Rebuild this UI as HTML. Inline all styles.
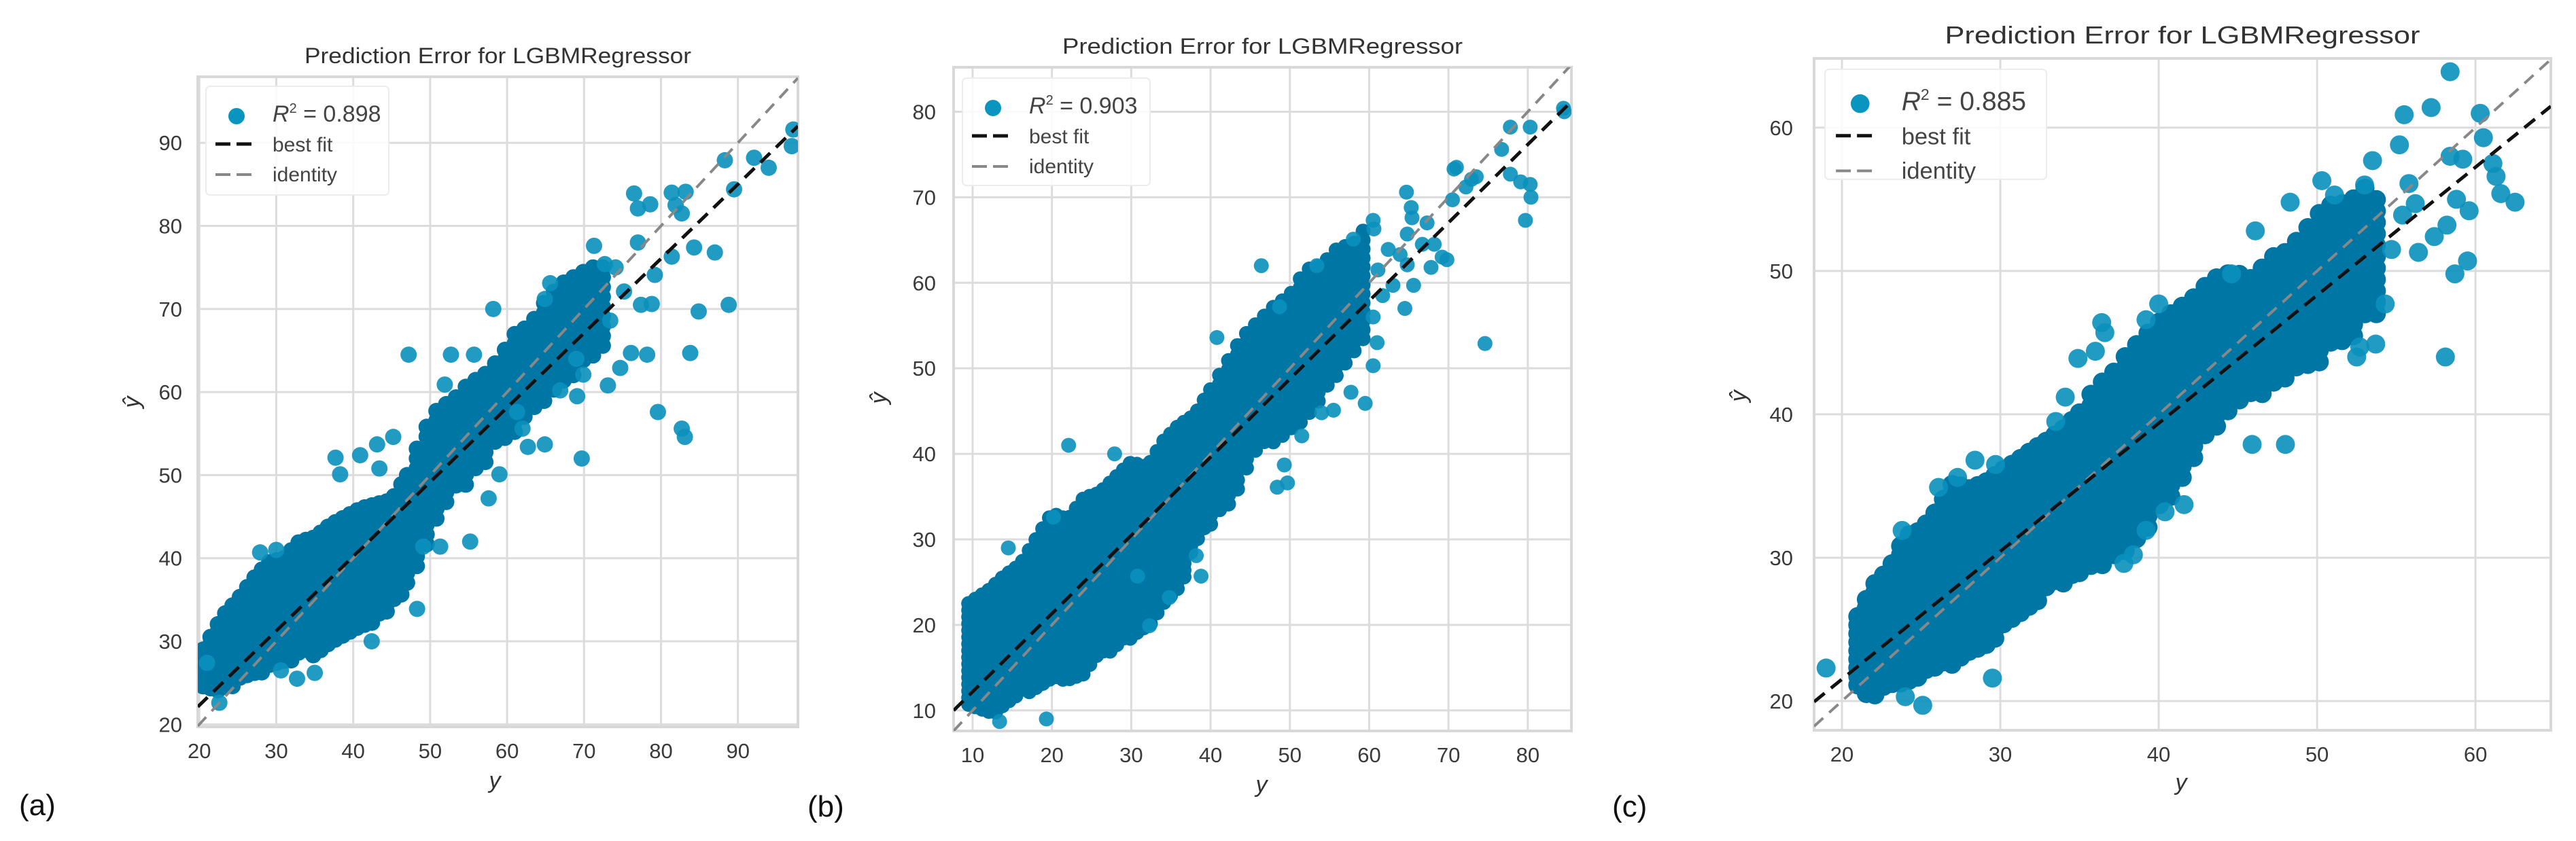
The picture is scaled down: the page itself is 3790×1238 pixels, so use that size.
<!DOCTYPE html>
<html><head><meta charset="utf-8"><style>
html,body{margin:0;padding:0;background:#fff;}
svg{display:block;}
text{font-family:"Liberation Sans",sans-serif;}
</style></head><body>
<svg id="fig" width="3790" height="1238" viewBox="0 0 3790 1238" xmlns="http://www.w3.org/2000/svg"></svg>
<script>
// ---------- Panel A data ----------
const aTicksX=[20,30,40,50,60,70,80,90];
const aTicksY=[20,30,40,50,60,70,80,90];
const aCoreX=[20.5,23,25,27,29,31,33,35,37,39,41,43,45,47];
const aCoreLo=[24,24,24.8,25.5,26.5,27.3,28,28.3,29,30,31,32.5,34,35.5];
const aCoreHi=[29,33,35,37.5,39.5,40,42,42.5,44,45,46,46.5,47,50];
const aMidX=[47,49,51,53,55,57,59,61,63,65,67,69,71,73];
const aMidLo=[36,40,45,48,49,51,54,55,57,59,61,62,64,66];
const aMidHi=[50,55,58,59,61,62,64,67,68,71,73,74,75,75];
const aPtsX=[47.2,52.7,55.7,58.2,51.9,69.7,79.6,82.7,83.1,83.8,84.9,88.8,87,88.3,92.1,94,89.5,97,97.2,76.5,77,78.6,81.4,83.2,81.9,82.7,71.3,84.3,81.4,79.2,77,77.4,78.8,78.2,76.1,74.7,73.1,69,66.9,69.1,69.9,65.6,64.9,74.1,72.7,75.2,73.4,64.9,62.7,59,55.2,57.6,61.3,62,37.7,38.3,40.9,43.1,45.2,43.4,27.9,30,32.7,35,30.6,42.4,48.3,49.1,51.3,22.6,21];
const aPtsY=[64.5,64.5,64.5,70,60.9,52,57.6,55.6,54.6,64.7,69.7,70.5,76.8,87.9,88.2,87,84.4,89.6,91.6,83.9,82.1,82.6,84,84.1,82.5,81.5,77.6,77.4,76.3,74.1,78,70.5,70.6,64.5,64.7,62.9,60.8,64,60.2,59.5,62.1,73.1,71.2,75,75.4,72.1,68.6,53.7,53.4,50.1,42,47.2,57.6,55.6,52.1,50.1,52.4,53.7,54.6,50.8,40.7,41,25.5,26.2,26.5,30,33.9,41.4,41.4,22.6,27.4];
const aFit=[0.896,4.38];
// ---------- Panel B data ----------
const bTicksX=[10,20,30,40,50,60,70,80];
const bTicksY=[10,20,30,40,50,60,70,80];
const bCoreX=[9.5,12,14,16,18,20,22,24,26,28,30,32,34,36,38,40];
const bCoreLo=[10,9.3,10,11.7,12.3,13.5,12.9,14.1,16,17.2,18.4,19.6,22,23.8,29.3,31.7];
const bCoreHi=[22.5,24,25.7,27,30,33,32.3,34.8,35.4,37.2,39,38.4,41.4,43.3,44.5,47.5];
const bMidX=[40,42,44,46,48,50,52,54,56,58,60];
const bMidLo=[31.7,33.6,36.6,40.2,41.4,42.7,43.9,46.3,49.3,51.2,53.6];
const bMidHi=[47.5,50.5,53.6,55.4,57.2,58.5,61.5,62,64,64.5,67];
const bPtsX=[60.6,60.5,64.7,65.3,65.4,64.8,67.3,68.2,69.8,67.8,65.6,64.5,70.5,70.7,71,72.9,72.2,73.5,76.7,77.8,80.3,77.8,79.1,80.3,80.4,79.7,74.6,84.5,84.6,69.2,66.7,62.4,63,64.8,63.9,61.1,61.7,60.5,61,60.5,59.5,57.7,55.5,54,51.5,49.7,48.4,49.3,46.4,48.7,40.8,53.4,58,14.5,22.1,27.9,20.2,38.8,38.2,34.8,19.3,13.4,32.3,30.8];
const bPtsY=[66.3,67.3,70.6,68.8,67.6,65.7,67,64.5,62.7,61.8,59.7,57,69.7,73.3,73.5,72.1,71.2,72.4,75.6,78.2,78.2,72.7,71.8,71.5,70,67.3,52.9,80.4,80,63,64.5,63.9,59.7,62.1,63.3,61.5,58.5,56,53,50.3,45.9,47.2,45.1,44.8,42.1,36.6,36.1,38.7,62,57.2,53.6,62,65.1,29,41,40,32.6,25.7,28.1,23.2,9,8.7,19.9,25.7];
const bFit=[0.914,3.05];
// ---------- Panel C data ----------
const cTicksX=[20,30,40,50,60];
const cTicksY=[20,30,40,50,60];
const cCoreX=[21,22,23,24,25,26,27,28,29,30,31,32,33,34,35];
const cCoreLo=[20.6,20.3,20.6,21,21.4,22.1,22.5,22.9,23.6,24.7,25.9,26.6,27.7,28.1,28.5];
const cCoreHi=[25.9,28.1,29.2,31.5,31.9,33.3,35.2,34.8,35.2,36,36.7,37.5,38.2,39,40.1];
const cMidX=[35,36,37,38,39,40,41,42,43,44,45,46,47,48,49,50,51,52,53,54];
const cMidLo=[28.5,29.2,29.6,30,31.5,33.3,34.5,36.3,38.2,39,40.4,40.8,41.9,41.9,43,43.4,44.9,44.9,46.4,47.2];
const cMidHi=[40.1,41.9,42.7,44.2,45.3,46.4,47.2,47.9,49,49.8,49.8,49.4,50.9,51.3,52.4,53.9,54.7,54.7,55.8,54.7];
const cPtsX=[58.4,55.5,57.2,60.3,60.5,55.2,61.1,61.3,61.6,62.5,59.2,58.4,58.8,59.6,58.2,57.4,58.7,59.5,58.1,53.5,53,50.3,51.1,48.3,46.1,55.8,56.2,55.4,56.4,54.7,54.3,52.7,53.7,52.5,45.9,48,36.4,36.6,34.9,36,34.1,33.5,29.7,28.4,27.3,26.1,23.8,19,24,25.1,29.5,37.8,38.4,41.6,40.4,39.2,40,39.2,44.6];
const cPtsY=[63.9,60.9,61.4,61,59.3,58.8,57.5,56.6,55.4,54.8,57.8,58,55,54.2,53.2,52.4,49.8,50.7,44,57.7,56,56.3,55.3,54.8,52.8,56.1,54.7,53.9,51.3,51.5,47.7,44.7,44.9,44,37.9,37.9,46.4,45.7,43.9,44.4,41.2,39.5,36.5,36.8,35.6,34.9,31.9,22.3,20.3,19.7,21.6,29.6,30.2,33.7,33.2,31.9,47.7,46.6,49.8];
const cFit=[0.893,3.66];

const NS="http://www.w3.org/2000/svg";
const svg=document.getElementById('fig');
function mk(tag,attrs,parent){const e=document.createElementNS(NS,tag);for(const k in attrs)e.setAttribute(k,attrs[k]);(parent||svg).appendChild(e);return e;}

function drawPanel(p){
  const g=mk('g',{});
  
  
  const sx=v=>p.L+(v-p.xd[0])/(p.xd[1]-p.xd[0])*(p.R-p.L);
  const sy=v=>p.B-(v-p.yd[0])/(p.yd[1]-p.yd[0])*(p.B-p.T);
  p.tx.forEach(t=>{const l=mk('line',{x1:sx(t),x2:sx(t),y1:p.T,y2:p.B,stroke:'#dcdcdc','stroke-width':3},g);
    
    const tt=mk('text',{x:sx(t),y:p.B+46,'text-anchor':'middle','font-size':p.tf,fill:'#3a3a3a'},g);tt.textContent=t;
    });
  p.ty.forEach(t=>{const l=mk('line',{x1:p.L,x2:p.R,y1:sy(t),y2:sy(t),stroke:'#dcdcdc','stroke-width':3},g);
    
    const tt=mk('text',{x:p.L-p.yl,y:sy(t)+11,'text-anchor':'end','font-size':p.tf,fill:'#3a3a3a'},g);tt.textContent=t;
    });
  const fr=mk('rect',{x:p.L,y:p.T,width:p.R-p.L,height:p.B-p.T,fill:'none',stroke:'#d8d8d8','stroke-width':4},g);
  
  const cp=mk('clipPath',{id:'clip'+p.id},g);
  mk('rect',{x:p.L,y:p.T,width:p.R-p.L,height:p.B-p.T},cp);
  const dots=mk('g',{'clip-path':'url(#clip'+p.id+')'},g);
  
  const bandG=mk('g',{fill:'#0076a5'},dots);
  const ptG=mk('g',{fill:'#0a90bd','fill-opacity':0.9},dots);
  function band(X,LO,HI,step){
    const x0=sx(X[0]),x1=sx(X[X.length-1]);
    for(let px=x0;px<=x1+0.1;px+=step){
      const xv=p.xd[0]+(px-p.L)/(p.R-p.L)*(p.xd[1]-p.xd[0]);
      let i=0;while(i<X.length-2&&xv>X[i+1])i++;
      const f=Math.max(0,Math.min(1,(xv-X[i])/(X[i+1]-X[i])));
      const lo=LO[i]+(LO[i+1]-LO[i])*f,hi=HI[i]+(HI[i+1]-HI[i])*f;
      for(let py=sy(hi);py<=sy(lo)+0.1;py+=step){
        const c=mk('circle',{cx:px.toFixed(1),cy:py.toFixed(1),r:p.r},bandG);
        
        
      }
    }
  }
  band(p.coreX,p.coreLo,p.coreHi,p.r*0.9);
  band(p.midX,p.midLo,p.midHi,p.r*1.2);
  p.ptsX.forEach((v,i)=>{const c=mk('circle',{cx:sx(v),cy:sy(p.ptsY[i]),r:p.r},ptG);
    
    });
  const lines=mk('g',{'clip-path':'url(#clip'+p.id+')'},g);
  const id=mk('line',{x1:sx(p.xd[0]),y1:sy(p.xd[0]),x2:sx(p.xd[1]),y2:sy(p.xd[1]),stroke:'#888','stroke-width':4,'stroke-dasharray':'18 12'},lines);
  
  const bf=mk('line',{x1:sx(p.xd[0]),y1:sy(p.fit[0]*p.xd[0]+p.fit[1]),x2:sx(p.xd[1]),y2:sy(p.fit[0]*p.xd[1]+p.fit[1]),stroke:'#111','stroke-width':5,'stroke-dasharray':'20 12'},lines);
  
  const ti=mk('text',{x:(p.L+p.R)/2,y:p.titleY,'text-anchor':'middle','font-size':p.titleF,fill:'#333',textLength:p.titleW,lengthAdjust:'spacingAndGlyphs'},g);
  ti.textContent='Prediction Error for LGBMRegressor';
  
  const xl=mk('text',{x:p.xlab[0],y:p.xlab[1],'text-anchor':'middle','font-size':34,'font-style':'italic',fill:'#333'},g);
  xl.textContent='y';
  const yl=mk('text',{x:p.ylab[0],y:p.ylab[1],'text-anchor':'middle','font-size':34,'font-style':'italic',fill:'#333',transform:'rotate(-90 '+p.ylab[0]+' '+p.ylab[1]+')'},g);
  yl.textContent='ŷ';
  const lg=mk('g',{},g);
  const k=p.lg;
  mk('rect',{x:k.x,y:k.y,width:k.w,height:k.h,rx:6,fill:'#fff','fill-opacity':0.85,stroke:'#ececec','stroke-width':2},lg);
  const s=k.s;
  const mc=mk('circle',{cx:k.x+45*s,cy:k.y+44*s,r:12*s,fill:'#0a95c0'},lg);
  
  const rt=mk('text',{x:k.x+98*s,y:k.y+52*s,'font-size':34*s,fill:'#444'},lg);
  rt.innerHTML='<tspan font-style="italic">R</tspan><tspan font-size="'+(20*s)+'" dy="'+(-13*s)+'">2</tspan><tspan dy="'+(13*s)+'"> = '+p.r2+'</tspan>';
  
  mk('line',{x1:k.x+14*s,x2:k.x+67*s,y1:k.y+85*s,y2:k.y+85*s,stroke:'#111','stroke-width':5,'stroke-dasharray':'22 9'},lg);
  const t1=mk('text',{x:k.x+98*s,y:k.y+96*s,'font-size':30*s,fill:'#444'},lg);t1.textContent='best fit';
  
  mk('line',{x1:k.x+14*s,x2:k.x+67*s,y1:k.y+130*s,y2:k.y+130*s,stroke:'#888','stroke-width':4,'stroke-dasharray':'22 9'},lg);
  const t2=mk('text',{x:k.x+98*s,y:k.y+140*s,'font-size':30*s,fill:'#444'},lg);t2.textContent='identity';
  
  const pl=mk('text',{x:p.letter[0],y:p.letter[1],'font-size':44,fill:'#111','font-family':'"DejaVu Sans",sans-serif'},g);
  pl.textContent='('+p.id+')';
}

drawPanel({id:'a',L:291,R:1174,T:113,B:1070,xd:[19.8,97.8],yd:[19.7,97.95],tx:aTicksX,ty:aTicksY,r:12,tf:31,yl:23,
  coreX:aCoreX,coreLo:aCoreLo,coreHi:aCoreHi,midX:aMidX,midLo:aMidLo,midHi:aMidHi,ptsX:aPtsX,ptsY:aPtsY,fit:aFit,
  titleY:93,titleF:32,titleW:569,xlab:[728,1160],ylab:[205,592],r2:'0.898',
  lg:{x:303,y:127,w:269,h:160,s:1},letter:[28,1200]});
drawPanel({id:'b',L:1403,R:2312,T:99,B:1076,xd:[7.6,85.5],yd:[7.6,85.2],tx:bTicksX,ty:bTicksY,r:11,tf:31,yl:26,
  coreX:bCoreX,coreLo:bCoreLo,coreHi:bCoreHi,midX:bMidX,midLo:bMidLo,midHi:bMidHi,ptsX:bPtsX,ptsY:bPtsY,fit:bFit,
  titleY:79,titleF:32,titleW:589,xlab:[1856,1166],ylab:[1304,586],r2:'0.903',
  lg:{x:1416,y:115,w:276,h:158,s:1},letter:[1188,1202]});
drawPanel({id:'c',L:2669,R:3753,T:86,B:1075,xd:[18.24,64.76],yd:[17.96,64.83],tx:cTicksX,ty:cTicksY,r:14,tf:31,yl:31,
  coreX:cCoreX,coreLo:cCoreLo,coreHi:cCoreHi,midX:cMidX,midLo:cMidLo,midHi:cMidHi,ptsX:cPtsX,ptsY:cPtsY,fit:cFit,
  titleY:64,titleF:36,titleW:699,xlab:[3209,1163],ylab:[2569,583],r2:'0.885',
  lg:{x:2685,y:102,w:326,h:162,s:1.15},letter:[2372,1202]});
</script>
</body></html>
